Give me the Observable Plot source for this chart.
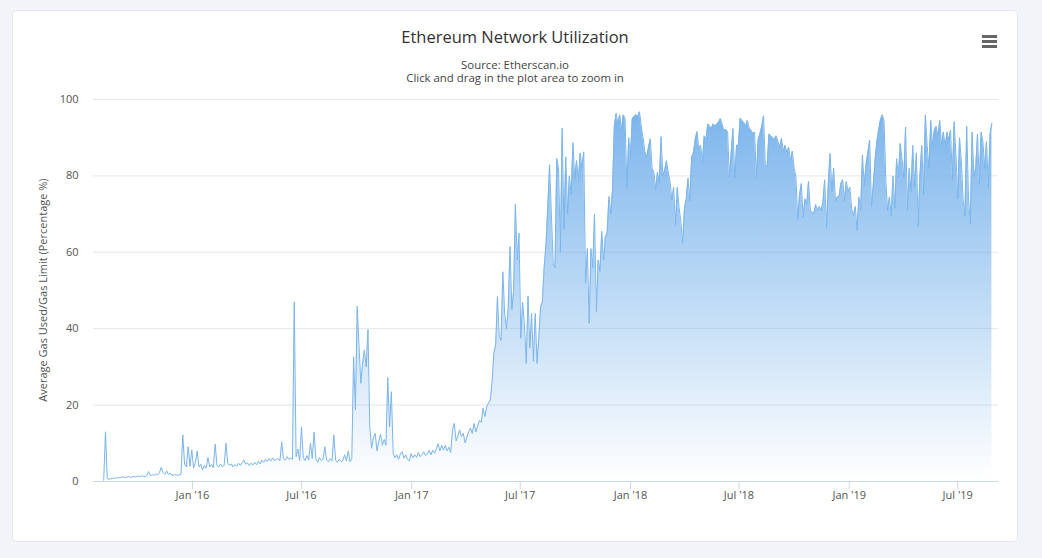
<!DOCTYPE html>
<html><head><meta charset="utf-8">
<script src="https://cdn.jsdelivr.net/npm/d3@7"></script>
<script src="https://cdn.jsdelivr.net/npm/@observablehq/plot@0.6"></script>
<style>
body{margin:0;background:#f3f4f7;width:1042px;height:558px;overflow:hidden;font-family:"Open Sans","Liberation Sans",Arial,sans-serif;position:relative}
#card{position:absolute;left:12px;top:10px;width:1004px;height:530px;background:#fff;border:1px solid #e4e7ee;border-radius:5px}
.t{position:absolute;left:12px;width:1006px;text-align:center;white-space:nowrap}
#chart{position:absolute;left:0;top:90px}
#ylab{position:absolute;left:-157px;top:282px;width:400px;height:16px;line-height:16px;text-align:center;font-size:11px;color:#555;transform:rotate(-90deg);transform-origin:center center;white-space:nowrap}
.bar{position:absolute;left:982px;width:15px;height:3px;background:#666}
</style></head><body>
<div id="card"></div>
<div class="t" style="top:27px;font-size:16.5px;line-height:20px;color:#333">Ethereum Network Utilization</div>
<div class="t" style="top:58px;font-size:11.4px;line-height:14px;color:#444">Source: Etherscan.io</div>
<div class="t" style="top:71px;font-size:11.4px;line-height:14px;color:#444">Click and drag in the plot area to zoom in</div>
<div class="bar" style="top:35px"></div><div class="bar" style="top:40px"></div><div class="bar" style="top:45px"></div>
<div id="ylab">Average Gas Used/Gas Limit (Percentage %)</div>
<div id="chart"></div>
<script>
const startDate = "2015-08-06";
const stepDays = 3;
const values = [
0.3,13,0.8,0.6,0.7,0.8,0.9,0.9,1.0,1.0,1.1,1.2,1.0,1.2,1.3,1.1,1.2,1.3,1.2,1.4,
1.3,1.5,1.4,1.3,1.6,2.6,1.5,1.8,1.6,2.0,1.7,2.3,3.7,2.4,1.9,2.8,1.8,2.2,1.6,1.7,
1.8,1.6,1.7,1.9,12.2,4.5,3.8,9.1,4.0,8.3,3.5,5.0,8.0,3.8,4.5,3.0,4.2,3.5,6.3,3.8,
4.5,3.6,9.8,4.2,3.8,4.6,3.9,4.2,10.0,4.8,4.2,4.6,3.8,4.4,4.0,4.8,4.2,4.9,5.6,4.5,
4.9,4.2,4.8,4.3,5.0,4.4,5.3,4.6,5.6,5.0,5.8,5.2,6.0,5.4,6.2,5.5,5.8,6.0,5.4,10.4,
6.0,5.6,6.5,5.8,6.2,5.8,47,6.5,8.5,5.5,14.3,6.2,5.5,6.8,5.6,10.0,6.0,12.9,6.0,5.0,
6.3,5.5,5.8,9.1,5.6,5.2,6.0,5.4,12.2,5.6,5.0,5.8,5.2,5.5,7.0,5.4,8.0,5.2,6.0,32.7,
18.7,45.9,35.7,25.7,31,34.4,30,39.8,14.3,8.7,11.5,12.6,8.0,10.5,12.4,9.5,11.0,9.5,27.2,14.3,
23.5,7.5,6.2,7.0,5.8,7.2,7.8,6.1,7.0,5.8,5.4,7.3,6.2,7.0,6.3,7.6,6.5,7.0,7.8,6.8,
7.2,8.2,7.0,8.2,7.4,8.6,9.9,8.0,9.5,8.2,9.5,8.0,9.0,7.6,13.5,15.2,10.6,12.0,13.5,11.8,
12.6,10.1,11.5,13.0,14.0,12.6,15.2,13.0,14.5,16.0,15.5,19.2,17.0,19.5,20.5,21.3,26.0,33.6,35.7,48.4,
38.0,37.0,54.9,44.0,40.0,45.5,61.5,45.0,50.0,72.6,58.0,65.0,37.5,47.0,41.0,30.9,48.5,35.0,44.0,31.5,
44.0,30.9,37.7,45.8,47.0,56.2,62.0,72.0,82.9,70.0,57.0,56.0,84.6,81.8,60.0,92.5,66.0,85.0,70.0,80.0,
75.0,88.7,79.0,84.0,78.5,86.0,82.0,86.3,51.9,61.0,41.4,61.0,56.0,70.0,44.5,58.0,55.0,65.5,58.0,64.0,
65.0,74.6,70.0,76.4,92.9,96.4,93.5,96.0,92.0,96.0,95.0,76.7,90.0,85.0,95.0,95.5,96.0,95.5,96.8,93.0,
90.0,86.3,85.0,87.5,89.7,82.0,81.0,76.5,81.0,78.0,90.3,80.0,81.5,84.0,81.0,78.5,73.7,77.0,67.0,77.0,
71.8,68.0,62.4,71.5,74.0,79.4,73.5,84.9,86.0,89.6,91.6,87.0,88.0,83.5,90.5,89.5,93.6,93.0,92.5,93.6,
93.0,93.6,94.0,95.0,93.5,91.8,92.2,91.5,79.8,86.0,92.4,79.3,88.0,88.0,95.1,94.5,94.0,93.0,94.5,92.5,
92.0,91.0,91.5,79.3,89.5,91.0,93.0,95.7,82.5,82.5,91.0,90.5,90.0,89.5,90.5,89.0,87.5,89.8,86.5,88.0,
86.0,87.5,84.0,86.5,82.0,79.8,68.6,75.0,78.0,69.0,74.0,72.5,78.6,71.0,70.5,70.2,72.5,71.0,72.0,71.0,
73.0,79.0,66.3,78.0,85.9,76.0,82.0,73.5,74.5,74.5,78.0,79.0,73.5,78.5,76.0,77.0,71.5,69.5,72.0,65.8,
74.5,71.0,85.5,77.5,83.0,86.0,89.4,72.0,77.5,84.0,89.0,92.0,94.6,96.0,94.5,78.8,71.0,74.5,69.5,80.0,
71.5,84.5,79.5,88.5,84.5,79.5,92.8,71.0,82.0,76.0,88.0,77.0,86.0,66.8,80.5,88.0,75.0,96.0,88.0,82.0,
94.5,88.0,92.0,93.0,90.5,94.5,88.0,91.5,87.5,91.5,89.5,92.0,79.0,94.2,85.5,74.0,90.0,84.0,73.7,69.5,
93.0,74.0,67.4,91.5,80.0,82.0,91.0,78.0,91.5,89.0,82.0,89.0,77.0,91.0,93.8
];
const tickDates = ["2016-01-01","2016-07-01","2017-01-01","2017-07-01","2018-01-01","2018-07-01","2019-01-01","2019-07-01"];
const tickLabels = ["Jan '16","Jul '16","Jan '17","Jul '17","Jan '18","Jul '18","Jan '19","Jul '19"];
const yTicks = [0, 20, 40, 60, 80, 100];
const xDomain = ["2015-07-20", "2019-09-07"];

const t0 = Date.parse(startDate + "T00:00:00Z");
const data = values.map((v, i) => ({date: new Date(t0 + i * stepDays * 864e5), value: v}));
const ticks = tickDates.map(d => new Date(d + "T00:00:00Z"));
const labelMap = new Map(ticks.map((d, i) => [+d, tickLabels[i]]));

const chart = Plot.plot({
  width: 1042, height: 421,
  marginLeft: 93, marginRight: 44, marginTop: 9, marginBottom: 30,
  style: {fontFamily: "'Open Sans', 'Liberation Sans', Arial, sans-serif", fontSize: "11px", color: "#666", background: "transparent"},
  x: {type: "utc", domain: xDomain.map(d => new Date(d + "T00:00:00Z"))},
  y: {domain: [0, 100]},
  marks: [
    Plot.ruleY(yTicks.slice(1), {stroke: "#e6e6e6"}),
    Plot.areaY(data, {x: "date", y: "value", fill: "url(#areaGrad)"}),
    Plot.lineY(data, {x: "date", y: "value", stroke: "#7cb5ec", strokeWidth: 1}),
    Plot.ruleY([0], {stroke: "#ccd6eb"}),
    Plot.axisX(ticks, {tickSize: 8, tickPadding: 2, stroke: "#ccd6eb", fill: "#555", tickFormat: d => labelMap.get(+d), label: null}),
    Plot.axisY(yTicks, {tickSize: 0, tickPadding: 15, fill: "#555", label: null})
  ]
});
const ns = "http://www.w3.org/2000/svg";
const defs = document.createElementNS(ns, "defs");
defs.innerHTML = '<linearGradient id="areaGrad" x1="0" y1="0" x2="0" y2="1"><stop offset="0" stop-color="#7cb5ec" stop-opacity="1"/><stop offset="1" stop-color="#7cb5ec" stop-opacity="0"/></linearGradient>';
chart.insertBefore(defs, chart.firstChild);
document.getElementById("chart").appendChild(chart);
</script>
</body></html>
